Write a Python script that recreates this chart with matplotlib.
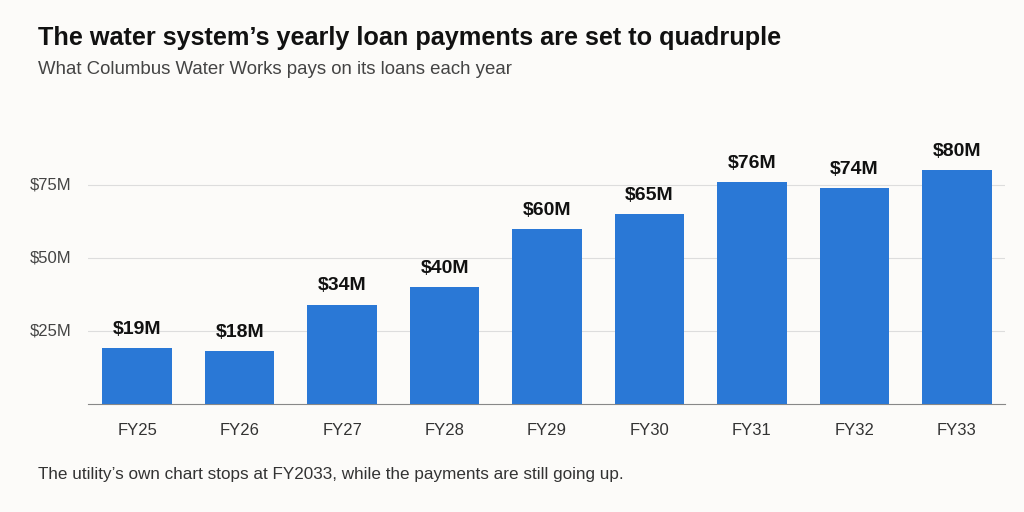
import matplotlib.pyplot as plt

years = ["FY25", "FY26", "FY27", "FY28", "FY29", "FY30", "FY31", "FY32", "FY33"]
payments = [19, 18, 34, 40, 60, 65, 76, 74, 80]
ytick_vals = [25, 50, 75]
ytick_labels = ["$25M", "$50M", "$75M"]

BG = "#fcfbf9"
BAR = "#2a78d6"
W, H = 1024, 512

plt.rcParams["font.family"] = ["Liberation Sans", "DejaVu Sans"]
fig = plt.figure(figsize=(W / 100, H / 100), dpi=100, facecolor=BG)

# axes in pixel coords: left 88, right 1005, top 130, bottom 404
ax = fig.add_axes([88 / W, 1 - 404 / H, (1005 - 88) / W, (404 - 130) / H])
ax.set_facecolor(BG)

x = list(range(len(years)))
ax.bar(x, payments, width=0.68, color=BAR, zorder=3)
for xi, v in zip(x, payments):
    ax.text(xi, v + 3.5, f"${v}M", ha="center", va="bottom",
            fontsize=14, fontweight="bold", color="#111111")

ax.set_xlim(-0.48, len(years) - 0.53)
ax.set_ylim(0, 93.8)
ax.set_yticks(ytick_vals)
ax.set_yticklabels([])
for v, lab in zip(ytick_vals, ytick_labels):
    ax.text(-58 / (1005 - 88), v, lab, transform=ax.get_yaxis_transform(),
            ha="left", va="center", fontsize=12, color="#444444")
ax.set_xticks(x)
ax.set_xticklabels(years)
ax.tick_params(axis="y", length=0)
ax.tick_params(axis="x", length=0, labelsize=12, colors="#333333", pad=14)
ax.grid(axis="y", color="#dddddd", linewidth=0.8, zorder=0)
for s in ["top", "right", "left"]:
    ax.spines[s].set_visible(False)
ax.spines["bottom"].set_color("#888888")
ax.spines["bottom"].set_linewidth(0.8)

fig.text(38 / W, 1 - 38 / H, "The water system’s yearly loan payments are set to quadruple",
         fontsize=18.2, fontweight="bold", color="#111111", va="center")
fig.text(38 / W, 1 - 70 / H, "What Columbus Water Works pays on its loans each year",
         fontsize=13.4, color="#444444", va="center")
fig.text(38 / W, 1 - 474 / H,
         "The utility’s own chart stops at FY2033, while the payments are still going up.",
         fontsize=12.3, color="#333333", va="center")

fig.savefig("out.png", dpi=100, facecolor=BG)
